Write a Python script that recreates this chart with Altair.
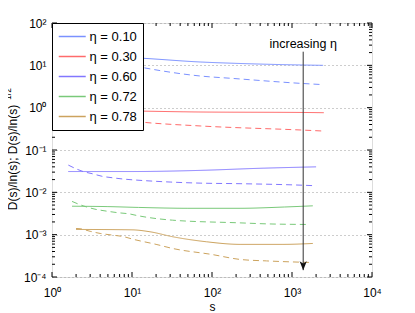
import altair as alt
import pandas as pd

# ---------------- data ----------------
etas = ["η = 0.10", "η = 0.30", "η = 0.60", "η = 0.72", "η = 0.78"]
colors = ["#7b91ff", "#ff6b6b", "#8277ff", "#79c979", "#cca35e"]

s_010_solid = [2, 5, 12.6, 71, 183, 1260, 2450]
v_010_solid = [18, 16, 14.8, 12, 11.2, 10.2, 10]
s_010_dash = [2, 5, 12.6, 71, 183, 1260, 2450]
v_010_dash = [20, 13, 9.1, 5.6, 4.9, 3.76, 3.5]

s_030_solid = [2, 12.6, 71, 1380, 2500]
v_030_solid = [0.88, 0.83, 0.79, 0.77, 0.76]
s_030_dash = [2, 12.6, 71, 1380, 2500]
v_030_dash = [0.75, 0.46, 0.37, 0.295, 0.28]

s_060_solid = [1.6, 10, 71, 400, 2000]
v_060_solid = [0.031, 0.031, 0.033, 0.037, 0.040]
s_060_dash = [1.6, 2.45, 3.2, 4.2, 5.8, 8.2, 11.2, 30, 71, 224, 1260, 2000]
v_060_dash = [0.044, 0.031, 0.0275, 0.024, 0.022, 0.0204, 0.0195, 0.0175,
              0.0165, 0.016, 0.0148, 0.0143]

s_072_solid = [1.78, 5, 12, 50, 224, 800, 1820]
v_072_solid = [0.0047, 0.0046, 0.0044, 0.0042, 0.0042, 0.0045, 0.0048]
s_072_dash = [1.78, 2.45, 3.45, 4.8, 6.7, 9.2, 11.9, 32, 224, 480, 1630]
v_072_dash = [0.0061, 0.0048, 0.004, 0.0036, 0.0033, 0.0031, 0.0028, 0.0022,
              0.0019, 0.0018, 0.00174]

s_078_solid = [2, 10, 16.8, 32.6, 85, 224, 770, 1820]
v_078_solid = [0.00133, 0.0013, 0.00117, 0.00089, 0.00068, 0.00059, 0.00059, 0.00062]
s_078_dash = [2, 2.24, 3, 4, 5.6, 7.8, 10.3, 20, 32.6, 100, 224, 480, 1770]
v_078_dash = [0.0014, 0.00138, 0.0012, 0.00107, 0.00098, 0.0009, 0.00078, 0.00059,
              0.00047, 0.00034, 0.00026, 0.00024, 0.00022]

x_major = [1, 10, 100, 1000, 10000]
x_labels = ["10⁰", "10¹", "10²", "10³", "10⁴"]
y_major = [1e-4, 1e-3, 1e-2, 1e-1, 1, 10, 100]
y_labels = ["10⁻⁴", "10⁻³", "10⁻²", "10⁻¹", "10⁰", "10¹", "10²"]

arrow_s = [1380]
arrow_top = [21]
arrow_tip = [1.45e-4]
arrow_text = ["increasing η"]
arrow_text_v = [32]

# ---------------- build table ----------------
series = [
    (etas[0], s_010_solid, v_010_solid, s_010_dash, v_010_dash),
    (etas[1], s_030_solid, v_030_solid, s_030_dash, v_030_dash),
    (etas[2], s_060_solid, v_060_solid, s_060_dash, v_060_dash),
    (etas[3], s_072_solid, v_072_solid, s_072_dash, v_072_dash),
    (etas[4], s_078_solid, v_078_solid, s_078_dash, v_078_dash),
]
rows = []
for eta, ss, vs, sd, vd in series:
    for i, (a, b) in enumerate(zip(ss, vs)):
        rows.append({"eta": eta, "kind": "solid", "s": a, "v": b, "o": i})
    for i, (a, b) in enumerate(zip(sd, vd)):
        rows.append({"eta": eta, "kind": "dashed", "s": a, "v": b, "o": i})
df = pd.DataFrame(rows)

x_minor = [m * 10 ** k for k in range(0, 4) for m in range(2, 10)]
y_minor = [m * 10.0 ** k for k in range(-4, 2) for m in range(2, 10)]

FONT = "Liberation Sans"
W, H = 320, 254

xscale = alt.Scale(type="log", domain=[1, 10000], nice=False)
yscale = alt.Scale(type="log", domain=[1e-4, 100], nice=False)


def arr(labels):
    return "[" + ",".join("'" + l + "'" for l in labels) + "]"


xaxis = alt.Axis(
    values=x_major,
    labelExpr=arr(x_labels) + "[round(log(datum.value)/LN10)]",
    grid=False, ticks=False, tickSize=0, domain=False,
    labelBaseline="alphabetic", labelPadding=19, labelFontSize=12,
    labelFont=FONT, labelColor="black", labelFlush=False,
    title="s", titleY=33, titleBaseline="alphabetic", titleFont=FONT,
    titleFontSize=12, titleFontWeight="normal", titleColor="black",
)
yaxis = alt.Axis(
    values=y_major,
    labelExpr=arr(y_labels) + "[round(log(datum.value)/LN10)+4]",
    grid=True, gridDash=[1, 3], gridColor="#9a9a9a", gridWidth=1,
    ticks=False, tickSize=0, domain=False,
    labelPadding=6, labelFontSize=12, labelFont=FONT, labelColor="black",
    labelFlush=False,
    title="D(s)/ln(s); D(s)/ln(s)", titleX=-40, titleY=134,
    titleBaseline="middle", titleFont=FONT, titleFontSize=12,
    titleFontWeight="normal", titleColor="black",
)


def X(f="s"):
    return alt.X(f, type="quantitative", scale=xscale, axis=xaxis)


def Y(f="v"):
    return alt.Y(f, type="quantitative", scale=yscale, axis=yaxis)


lines = alt.Chart(df).mark_line(strokeWidth=1, interpolate="monotone", clip=True).encode(
    x=X(), y=Y(),
    color=alt.Color("eta:N", scale=alt.Scale(domain=etas, range=colors),
                    sort=etas,
                    legend=alt.Legend(
                        orient="top-left", offset=0, padding=6, title=None,
                        fillColor="white", strokeColor="black", cornerRadius=0,
                        symbolType="M-1,0H3", symbolSize=182, symbolStrokeWidth=1.5,
                        labelOffset=16.5, labelFontSize=13, labelFont=FONT,
                        labelColor="black", rowPadding=5)),
    strokeDash=alt.StrokeDash("kind:N", scale=alt.Scale(domain=["solid", "dashed"],
                                                        range=[[1, 0], [6, 4]]),
                              legend=None),
    order="o:Q",
)

xt_major = pd.DataFrame({"s": x_major})
xt_minor = pd.DataFrame({"s": x_minor})
yt_major = pd.DataFrame({"v": y_major})
yt_minor = pd.DataFrame({"v": y_minor})


def xticks(d, ln):
    b = alt.Chart(d).mark_rule(color="black", strokeWidth=1).encode(
        x=X(), y=alt.value(H), y2=alt.value(H - ln))
    t = alt.Chart(d).mark_rule(color="black", strokeWidth=1).encode(
        x=X(), y=alt.value(0), y2=alt.value(ln))
    return [b, t]


def yticks(d, ln):
    l = alt.Chart(d).mark_rule(color="black", strokeWidth=1).encode(
        y=Y(), x=alt.value(0), x2=alt.value(ln))
    r = alt.Chart(d).mark_rule(color="black", strokeWidth=1).encode(
        y=Y(), x=alt.value(W), x2=alt.value(W - ln))
    return [l, r]


adf = pd.DataFrame({"s": arrow_s, "v": arrow_top, "v2": arrow_tip,
                    "t": arrow_text, "vt": arrow_text_v})
arrow = alt.Chart(adf).mark_rule(color="#333333", strokeWidth=1).encode(
    x=X(), y=Y(), y2="v2")
head = alt.Chart(adf).mark_point(shape="M0,0L-0.4,-1L0,-0.75L0.4,-1Z", filled=True,
                                 size=324, color="#111111", opacity=1).encode(
    x=X(), y=Y("v2"))
label = alt.Chart(adf).mark_text(font=FONT, fontSize=12.5, color="black",
                                 baseline="middle", align="center").encode(
    x=X(), y=Y("vt"), text="t:N")

sup = alt.Chart(pd.DataFrame({"t": ["1/2"]})).mark_text(
    font=FONT, fontSize=8.5, color="black", angle=270, baseline="middle",
    align="center").encode(text="t:N", x=alt.value(-44), y=alt.value(71))

layers = [lines] + xticks(xt_major, 5) + xticks(xt_minor, 3) + \
    yticks(yt_major, 5) + yticks(yt_minor, 3) + [arrow, head, label, sup]

chart = alt.layer(*layers).properties(
    width=W, height=H,
    autosize=alt.AutoSizeParams(type="none"),
    padding={"left": 44, "top": 15, "right": 10, "bottom": 35},
).configure_view(stroke="black", strokeWidth=1).configure(background="white")

chart.save("out.html", embed_options={"renderer": "svg", "actions": False})
